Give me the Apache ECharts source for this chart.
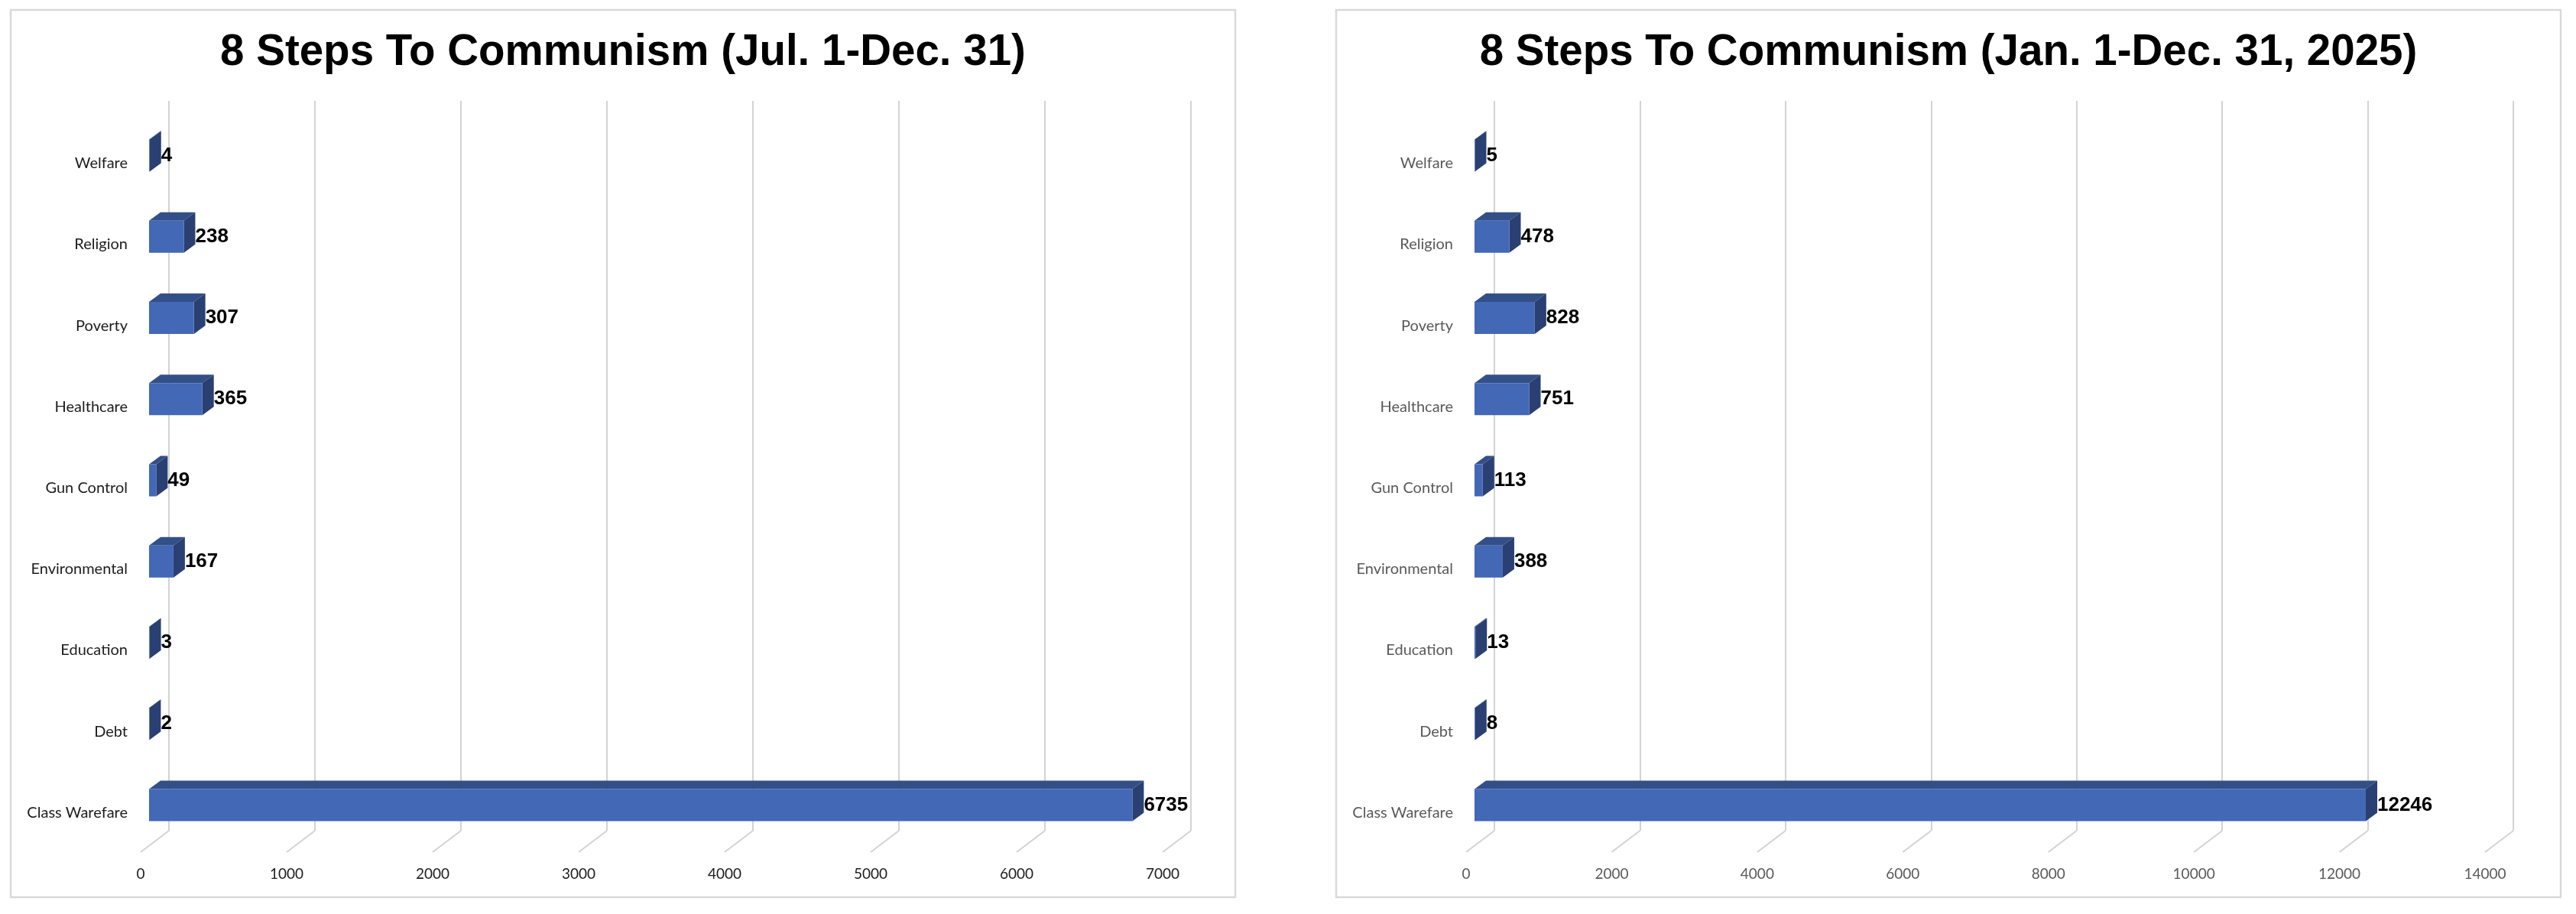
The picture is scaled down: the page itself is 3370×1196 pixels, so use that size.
<!DOCTYPE html>
<html>
<head>
<meta charset="utf-8">
<style>html,body{margin:0;padding:0;background:#fff}#c{width:3370px;height:1196px}</style>
<script src="https://cdn.jsdelivr.net/npm/echarts@6/dist/echarts.min.js"></script>
</head>
<body>
<div id="c"></div>
<script>
const categories = ['Class Warefare','Debt','Education','Environmental','Gun Control','Healthcare','Poverty','Religion','Welfare'];
const valuesHalf = [6735,2,3,167,49,365,307,238,4];
const valuesYear = [12246,8,13,388,113,751,828,478,5];
const ticksHalf = [0,1000,2000,3000,4000,5000,6000,7000];
const ticksYear = [0,2000,4000,6000,8000,10000,12000,14000];
const titleHalf = '8 Steps To Communism (Jul. 1-Dec. 31)';
const titleYear = '8 Steps To Communism (Jan. 1-Dec. 31, 2025)';

const C_FRONT='#4268B6', C_TOP='#334F88', C_SIDE='#2A3F72', C_GRID='#D3D3D3', C_FRAME='#D9D9D9';
const LABEL_FONT='Lato, Carlito, Calibri, sans-serif';
const BOLD_FONT='"Liberation Sans", Arial, sans-serif';
const BAR_H=42, DEPTH_X=15, DEPTH_Y=11;

function barItem(params, api){
  const v=api.value(0), i=api.value(1);
  const p0=api.coord([0,i]), p1=api.coord([v,i]);
  const x0=p0[0], x1=p1[0], t=p0[1]-BAR_H/2, b=p0[1]+BAR_H/2;
  return {type:'group',children:[
    {type:'polygon',shape:{points:[[x0,t],[x0+DEPTH_X,t-DEPTH_Y],[x1+DEPTH_X,t-DEPTH_Y],[x1,t]]},style:{fill:C_TOP}},
    {type:'polygon',shape:{points:[[x1,t],[x1+DEPTH_X,t-DEPTH_Y],[x1+DEPTH_X,b-DEPTH_Y],[x1,b]]},style:{fill:C_SIDE}},
    {type:'rect',shape:{x:x0,y:t,width:x1-x0,height:BAR_H},style:{fill:C_FRONT}},
    {type:'text',x:x1+DEPTH_X,y:p0[1],style:{text:String(v),fill:'#000',font:'bold 26px '+BOLD_FONT,align:'left',verticalAlign:'middle'}}
  ]};
}
function floorItem(params, api){
  const p=api.coord([api.value(0),0]);
  const bottom=params.coordSys.y+params.coordSys.height;
  return {type:'line',shape:{x1:p[0],y1:bottom,x2:p[0]-37,y2:bottom+28},style:{stroke:C_GRID,lineWidth:2,fill:null}};
}

const panels=[
 {title:titleHalf,values:valuesHalf,ticks:ticksHalf,frameX:14,frameW:1602,back:221,front:195,width:1337,color:'#1c1c1c'},
 {title:titleYear,values:valuesYear,ticks:ticksYear,frameX:1748,frameW:1602,back:1955,front:1929,width:1333,color:'#595959'}
];
const option={animation:false,backgroundColor:'#fff',title:[],grid:[],xAxis:[],yAxis:[],series:[],graphic:[]};
panels.forEach((p,k)=>{
  const gBack=k*2, gBar=k*2+1, max=p.ticks[p.ticks.length-1], step=p.ticks[1]-p.ticks[0];
  option.graphic.push({type:'rect',shape:{x:p.frameX,y:13,width:p.frameW,height:1161},style:{fill:'none',stroke:C_FRAME,lineWidth:2.5},silent:true,z:0});
  option.title.push({text:p.title,left:p.frameX+p.frameW/2,top:41,padding:0,textAlign:'center',textStyle:{fontFamily:BOLD_FONT,fontWeight:'bold',fontSize:56.5,color:'#000'}});
  option.grid.push({left:p.back,top:132,width:p.width,height:955});
  option.grid.push({left:p.front,top:150.5,width:p.width,height:956});
  option.xAxis.push({gridIndex:gBack,type:'value',min:0,max:max,interval:step,axisLine:{show:false},axisTick:{show:false},
    splitLine:{show:true,lineStyle:{color:C_GRID,width:2}},
    axisLabel:{show:true,margin:47,padding:[0,74,0,0],fontFamily:LABEL_FONT,fontSize:19,color:p.color,hideOverlap:false,formatter:v=>String(v)}});
  option.yAxis.push({gridIndex:gBack,type:'value',min:0,max:1,show:false,splitLine:{show:false}});
  option.xAxis.push({gridIndex:gBar,type:'value',min:0,max:max,interval:step,show:false,splitLine:{show:false}});
  option.yAxis.push({gridIndex:gBar,type:'category',data:categories,axisLine:{show:false},axisTick:{show:false},splitLine:{show:false},
    axisLabel:{show:true,interval:0,margin:28,verticalAlign:'top',fontFamily:LABEL_FONT,fontSize:20,color:p.color}});
  option.series.push({type:'custom',coordinateSystem:'cartesian2d',xAxisIndex:gBack,yAxisIndex:gBack,clip:false,silent:true,z:1,
    data:p.ticks.map(t=>[t]),encode:{x:0},renderItem:floorItem});
  option.series.push({type:'custom',coordinateSystem:'cartesian2d',xAxisIndex:gBar,yAxisIndex:gBar,clip:false,silent:true,z:3,
    data:p.values.map((v,i)=>[v,i]),encode:{x:0,y:1},renderItem:barItem});
});
const chart=echarts.init(document.getElementById('c'),null,{renderer:'canvas'});
chart.setOption(option);
</script>
</body>
</html>
